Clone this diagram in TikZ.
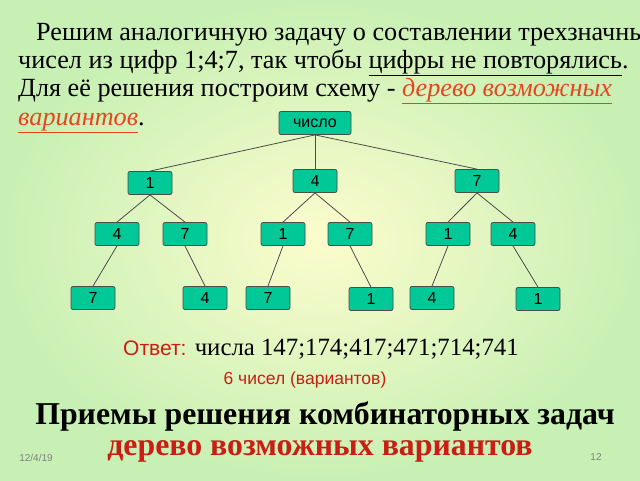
\documentclass[tikz,border=0pt]{standalone}
\usepackage{fontspec}
\setmainfont{Liberation Serif}
\setsansfont{Liberation Sans}
\usetikzlibrary{positioning}
\definecolor{boxgreen}{RGB}{0,200,150}
\definecolor{txtred}{RGB}{200,30,20}
\definecolor{linkred}{RGB}{230,70,30}
\begin{document}
\begin{tikzpicture}[x=1pt,y=-1pt,
  numnode/.style={rectangle, rounded corners=2pt, draw=black!70, fill=boxgreen, thick,
    minimum width=44pt, minimum height=23pt, font=\sffamily\fontsize{16}{16}\selectfont},
  link/.style={draw=black!70, thick},
  txt/.style={anchor=base west, inner sep=0pt, font=\fontsize{26.2}{26.2}\selectfont},
]
\shade[inner color={rgb,255:red,252;green,252;blue,205}, outer color={rgb,255:red,200;green,240;blue,180}]
  (0,0) rectangle (640,480);
\useasboundingbox (0,0) rectangle (640,480);
%Text
\node[txt] (l1) at (36,40) {Решим аналогичную задачу о составлении трехзначных};
\node[txt] (l2) at (18,68) {чисел из цифр 1;4;7, так чтобы \underline{цифры не повторялись}.};
\node[txt] (l3) at (18,96) {Для её решения построим схему - \textcolor{linkred}{\itshape\underline{дерево возможных}}};
\node[txt] (l4) at (18,125) {\textcolor{linkred}{\itshape\underline{вариантов}}.};
%Nodes
\node[numnode, minimum width=72pt] (root) at (315,123) {число};
\node[numnode] (a)   at (150,183) {1};
\node[numnode] (b)   at (315,181) {4};
\node[numnode] (c)   at (477,181) {7};
\node[numnode] (a1)  at (117,234) {4};
\node[numnode] (a2)  at (185,234) {7};
\node[numnode] (b1)  at (283,234) {1};
\node[numnode] (b2)  at (350,234) {7};
\node[numnode] (c1)  at (448,234) {1};
\node[numnode] (c2)  at (513,234) {4};
\node[numnode] (a11) at (93,298)  {7};
\node[numnode] (a21) at (205,298) {4};
\node[numnode] (b11) at (268,298) {7};
\node[numnode] (b21) at (371,299) {1};
\node[numnode] (c11) at (432,298) {4};
\node[numnode] (c21) at (538,299) {1};
%Lines
\foreach \p/\q in {root/a,root/b,root/c,a/a1,a/a2,b/b1,b/b2,c/c1,c/c2,a1/a11,a2/a21,b1/b11,b2/b21,c1/c11,c2/c21}
  \draw[link] (\p.south) -- (\q.north);
%Answer
\node[anchor=base west, inner sep=0pt, font=\fontsize{24.8}{24.8}\selectfont] (ans) at (123,355)
  {\textcolor{txtred}{\sffamily\fontsize{21}{21}\selectfont Ответ:} числа 147;174;417;471;714;741};
\node[font=\sffamily\fontsize{17.5}{17.5}\selectfont, text=txtred] (cnt) at (305,380) {6 чисел (вариантов)};
\node[font=\bfseries\fontsize{31.8}{31.8}\selectfont] (ttl) at (325,416) {Приемы решения комбинаторных задач};
\node[font=\bfseries\fontsize{31.8}{31.8}\selectfont, text=txtred] (sub) at (320,451) {дерево возможных вариантов};
\node[font=\sffamily\fontsize{10}{10}\selectfont, text=black!50] (date) at (36,458) {12/4/19};
\node[font=\sffamily\fontsize{10}{10}\selectfont, text=black!50] (page) at (596,457) {12};
\end{tikzpicture}
\end{document}
